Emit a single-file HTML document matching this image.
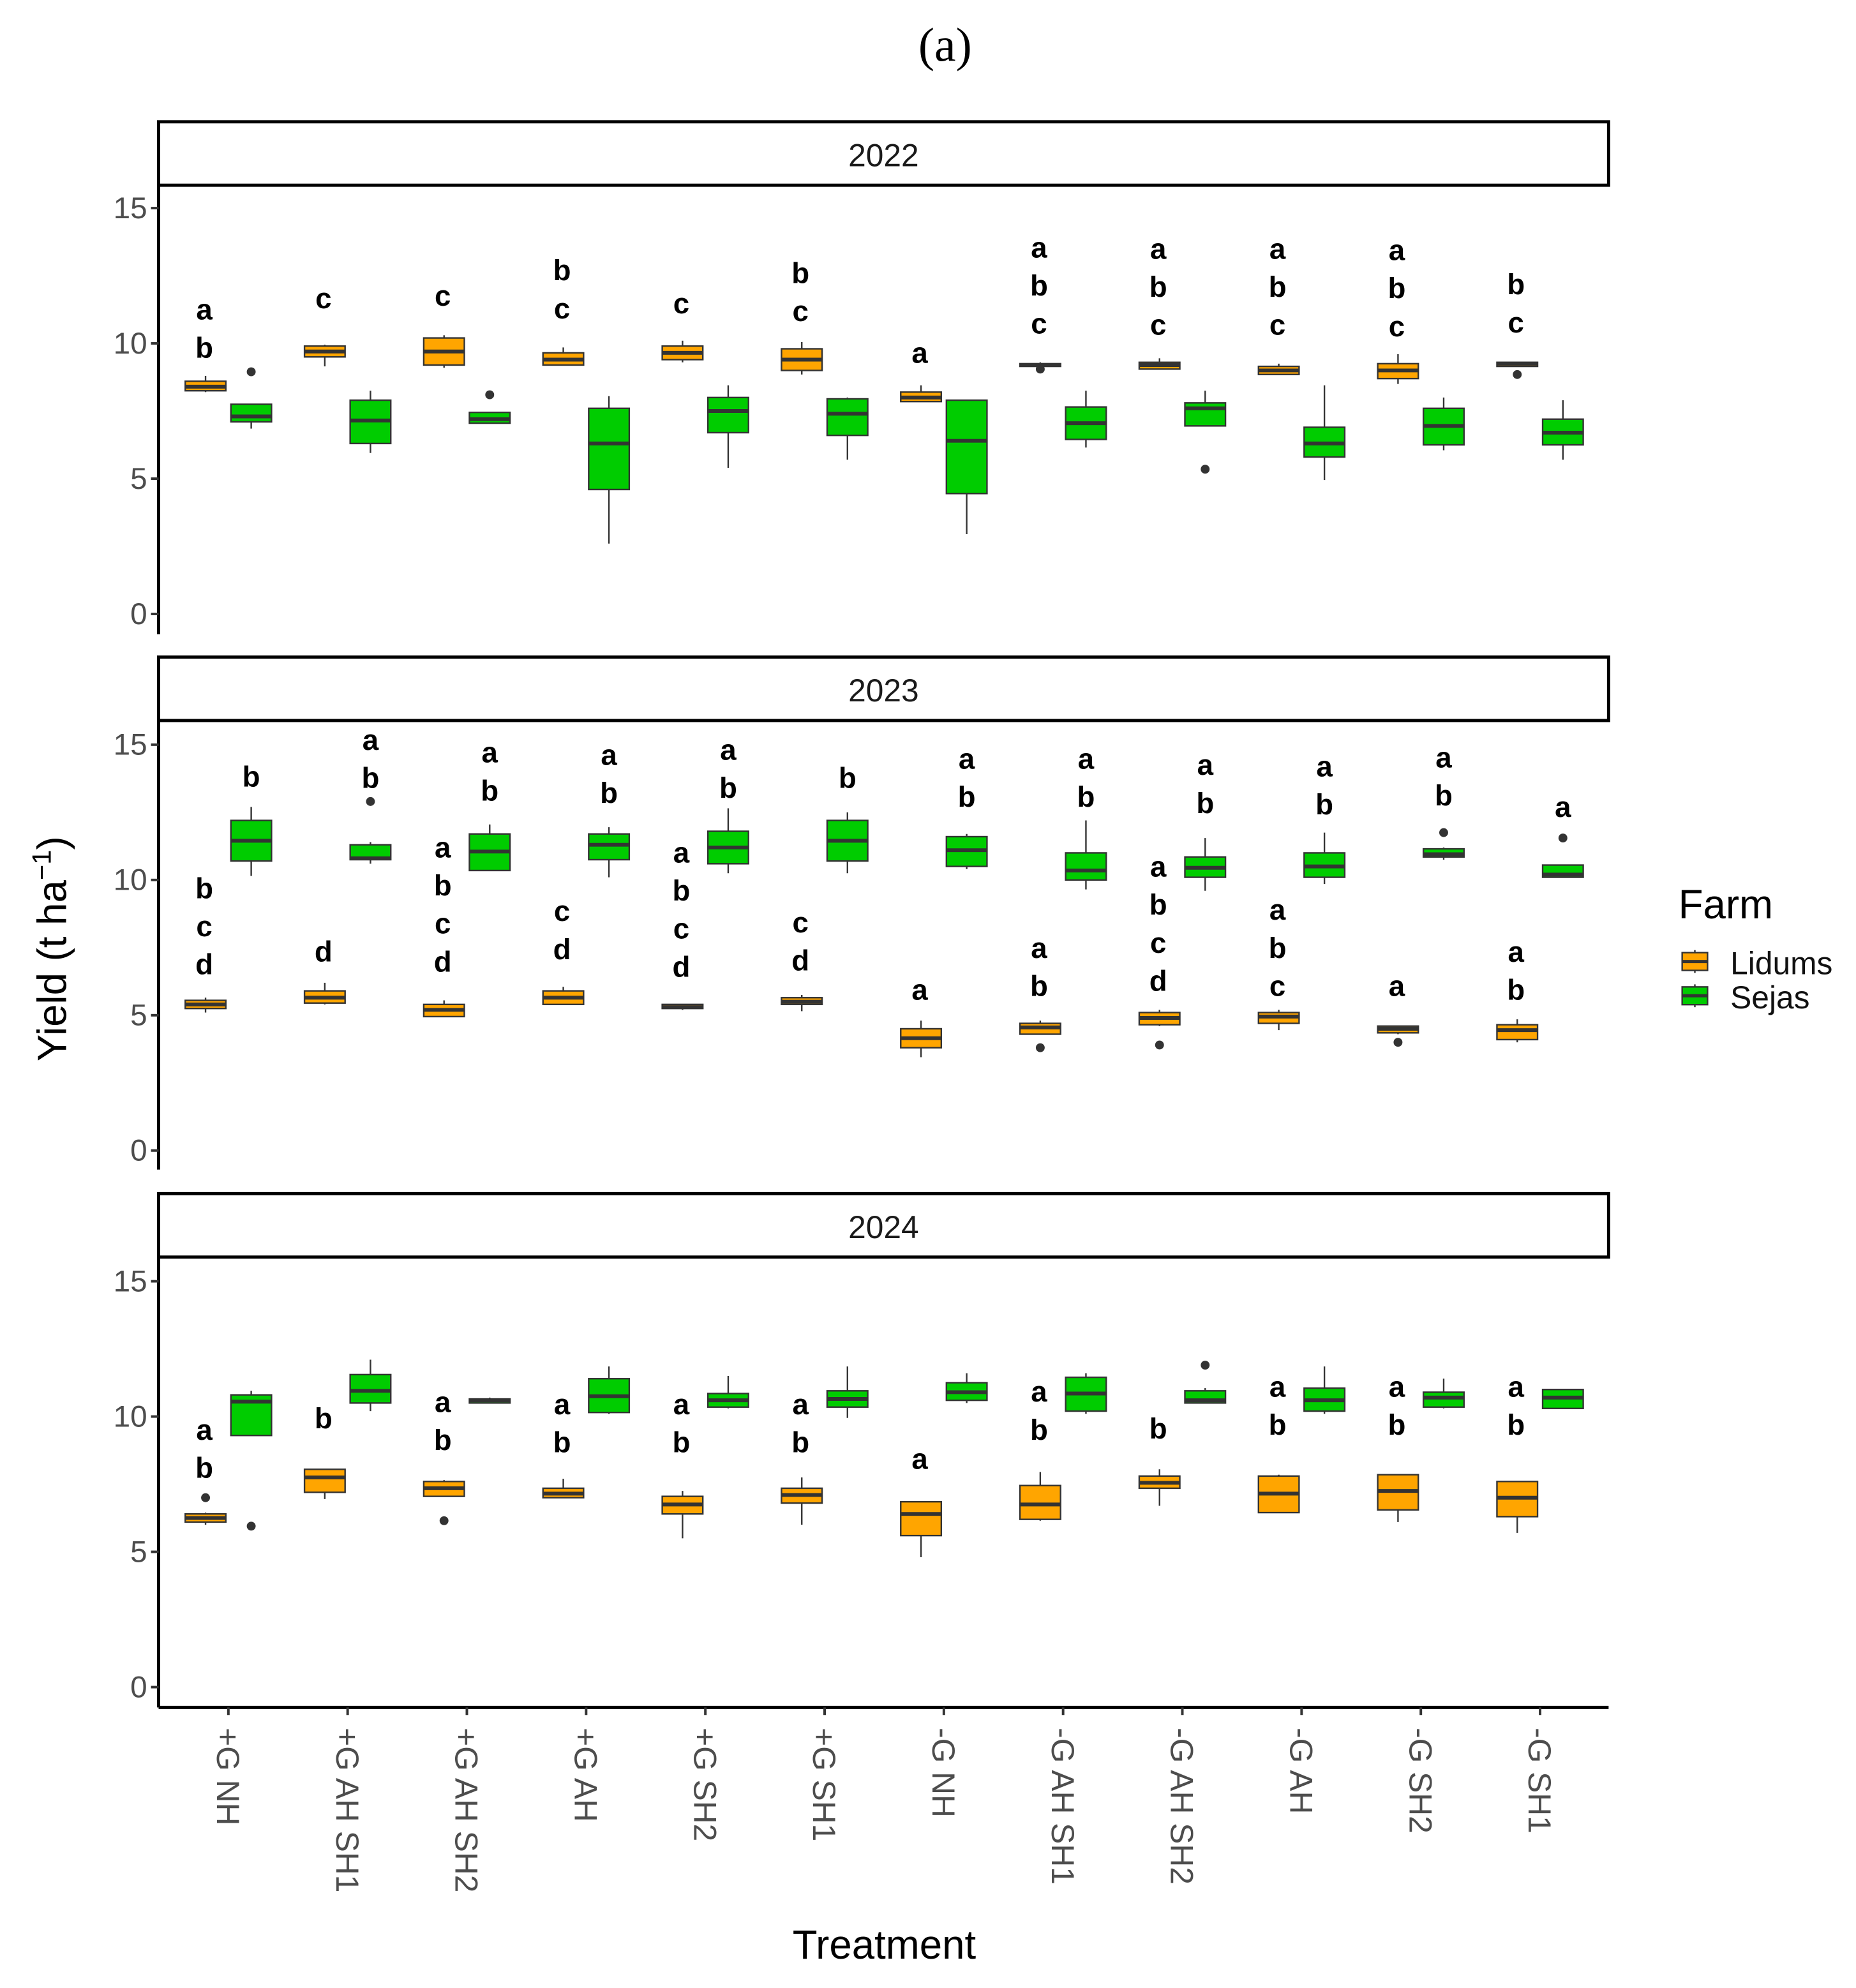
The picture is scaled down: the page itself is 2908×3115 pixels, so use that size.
<!DOCTYPE html>
<html><head><meta charset="utf-8"><style>
html,body{margin:0;padding:0;background:#fff}
svg{display:block}
text{font-family:"Liberation Sans",Arial,sans-serif}
</style></head><body>
<svg id="chart" width="2908" height="3115" viewBox="0 0 1463 1567.2" xmlns="http://www.w3.org/2000/svg">
<text x="745" y="48" text-anchor="middle" font-size="38" style="font-family:'Liberation Serif',serif">(a)</text>
<text x="697" y="1544" text-anchor="middle" font-size="32">Treatment</text>
<text transform="translate(52,748) rotate(-90)" text-anchor="middle" font-size="32">Yield (t ha<tspan dy="-12" font-size="21">−1</tspan><tspan dy="12">)</tspan></text>
<g>
<text x="1323" y="724" font-size="32">Farm</text>
<g><line x1="1336" y1="749" x2="1336" y2="767" stroke="#333" stroke-width="1.2"/><rect x="1326" y="751" width="20" height="14" fill="#FFA500" stroke="#333" stroke-width="1.2"/><line x1="1326" y1="758" x2="1346" y2="758" stroke="#333" stroke-width="2.5"/><text x="1364" y="768" font-size="25" fill="#111">Lidums</text></g>
<g><line x1="1336" y1="776" x2="1336" y2="794" stroke="#333" stroke-width="1.2"/><rect x="1326" y="778" width="20" height="14" fill="#00CC00" stroke="#333" stroke-width="1.2"/><line x1="1326" y1="785" x2="1346" y2="785" stroke="#333" stroke-width="2.5"/><text x="1364" y="795" font-size="25" fill="#111">Sejas</text></g>
</g>
</svg>
<script>
const categories=["+G NH","+G AH SH1","+G AH SH2","+G AH","+G SH2","+G SH1","-G NH","-G AH SH1","-G AH SH2","-G AH","-G SH2","-G SH1"];
const years=["2022","2023","2024"];
const yTicks=[0,5,10,15];
// each box: [lo, q1, median, q3, hi]
const lidums2022=[[8.2,8.25,8.4,8.6,8.8],[9.15,9.5,9.7,9.9,9.95],[9.1,9.2,9.7,10.2,10.3],[9.2,9.2,9.4,9.65,9.85],[9.3,9.4,9.65,9.9,10.1],[8.85,9.0,9.4,9.8,10.05],[7.85,7.85,8.0,8.2,8.45],[9.15,9.15,9.2,9.25,9.3],[9.05,9.05,9.2,9.3,9.45],[8.85,8.85,9.0,9.15,9.25],[8.5,8.7,9.0,9.25,9.6],[9.15,9.15,9.25,9.3,9.3]];
const sejas2022=[[6.85,7.1,7.3,7.75,7.75],[5.95,6.3,7.15,7.9,8.25],[7.05,7.05,7.2,7.45,7.45],[2.6,4.6,6.3,7.6,8.05],[5.4,6.7,7.5,8.0,8.45],[5.7,6.6,7.4,7.95,8.0],[2.95,4.45,6.4,7.9,7.9],[6.15,6.45,7.05,7.65,8.25],[6.95,6.95,7.6,7.8,8.25],[4.95,5.8,6.3,6.9,8.45],[6.05,6.25,6.95,7.6,8.0],[5.7,6.25,6.7,7.2,7.9]];
const lidums2023=[[5.1,5.25,5.4,5.55,5.65],[5.4,5.45,5.65,5.9,6.2],[4.95,4.95,5.2,5.4,5.55],[5.4,5.4,5.65,5.9,6.05],[5.2,5.25,5.3,5.4,5.4],[5.15,5.4,5.5,5.65,5.75],[3.45,3.8,4.15,4.5,4.8],[4.3,4.3,4.55,4.7,4.8],[4.6,4.65,4.9,5.1,5.2],[4.45,4.7,4.95,5.1,5.2],[4.3,4.35,4.5,4.6,4.6],[4.0,4.1,4.45,4.65,4.85]];
const sejas2023=[[10.15,10.7,11.45,12.2,12.7],[10.6,10.75,10.8,11.3,11.4],[10.35,10.35,11.05,11.7,12.05],[10.1,10.75,11.3,11.7,11.95],[10.25,10.6,11.2,11.8,12.65],[10.25,10.7,11.45,12.2,12.5],[10.4,10.5,11.1,11.6,11.7],[9.65,10.0,10.35,11.0,12.2],[9.6,10.1,10.45,10.85,11.55],[9.85,10.1,10.5,11.0,11.75],[10.75,10.85,10.95,11.15,11.2],[10.1,10.1,10.2,10.55,10.55]];
const lidums2024=[[6.0,6.1,6.25,6.4,6.45],[6.95,7.2,7.75,8.05,8.05],[7.05,7.05,7.35,7.6,7.65],[7.0,7.0,7.15,7.35,7.7],[5.5,6.4,6.75,7.05,7.25],[6.0,6.8,7.1,7.35,7.75],[4.8,5.6,6.4,6.85,6.85],[6.15,6.2,6.75,7.45,7.95],[6.7,7.35,7.55,7.8,8.05],[6.45,6.45,7.15,7.8,7.85],[6.1,6.55,7.25,7.85,7.85],[5.7,6.3,7.0,7.6,7.6]];
const sejas2024=[[9.3,9.3,10.55,10.8,10.95],[10.2,10.5,10.95,11.55,12.1],[10.5,10.5,10.6,10.65,10.7],[10.1,10.15,10.75,11.4,11.85],[10.3,10.35,10.6,10.85,11.5],[9.95,10.35,10.65,10.95,11.85],[10.5,10.6,10.9,11.25,11.6],[10.1,10.2,10.85,11.45,11.6],[10.5,10.5,10.6,10.95,11.05],[10.1,10.2,10.6,11.05,11.85],[10.3,10.35,10.7,10.9,11.4],[10.3,10.3,10.7,11.0,11.0]];
// outliers: [categoryIndex, value]
const outL2022=[[7,9.05],[11,8.85]];
const outS2022=[[0,8.95],[2,8.1],[8,5.35]];
const outL2023=[[7,3.8],[8,3.9],[10,4.0]];
const outS2023=[[1,12.9],[10,11.75],[11,11.55]];
const outL2024=[[0,7.0],[2,6.15]];
const outS2024=[[0,5.95],[8,11.9]];
// significance letters and their y (data units, lowest letter)
const lettersL2022=["ab","c","c","bc","c","bc","a","abc","abc","abc","abc","bc"];
const letterYL2022=[9.85,11.67,11.77,11.3,11.49,11.2,9.66,10.74,10.69,10.69,10.64,10.78];
const lettersL2023=["bcd","d","abcd","cd","abcd","cd","a","ab","abcd","abc","a","ab"];
const letterYL2023=[6.89,7.36,6.99,7.45,6.8,7.03,5.95,6.09,6.28,6.09,6.09,5.95];
const lettersS2023=["b","ab","ab","ab","ab","b","ab","ab","ab","ab","ab","a"];
const letterYS2023=[13.83,13.78,13.31,13.22,13.41,13.78,13.08,13.08,12.85,12.8,13.13,12.7];
const lettersL2024=["ab","b","ab","ab","ab","ab","a","ab","b","ab","ab","ab"];
const letterYL2024=[8.11,9.94,9.14,9.05,9.05,9.05,8.44,9.52,9.56,9.7,9.7,9.7];

const NS="http://www.w3.org/2000/svg";
const svg=document.getElementById('chart');
function mk(tag,attrs,parent){const e=document.createElementNS(NS,tag);for(const k in attrs)e.setAttribute(k,attrs[k]);(parent||svg).appendChild(e);return e;}
const X0=125,X1=1268;
const panels=[{strip:96,zero:484,bottom:500},{strip:518,zero:907,bottom:922},{strip:941,zero:1330,bottom:1346}];
const PXU=21.33;
function xc(i){return 180+i*94;}
const boxes=[[lidums2022,sejas2022],[lidums2023,sejas2023],[lidums2024,sejas2024]];
const outs=[[outL2022,outS2022],[outL2023,outS2023],[outL2024,outS2024]];
const letters=[[[lettersL2022,letterYL2022]],[[lettersL2023,letterYL2023],[lettersS2023,letterYS2023]],[[lettersL2024,letterYL2024]]];
const fills=["#FFA500","#00CC00"];
const farmNames=["lidums","sejas"];
panels.forEach((p,pi)=>{
  const Y=v=>p.zero-v*PXU;
  const g=mk('g',{});
  
  
  const strip=mk('rect',{x:X0,y:p.strip,width:X1-X0,height:50,fill:'#fff',stroke:'#000','stroke-width':2.5},g);
  
  
  const st=mk('text',{x:(X0+X1)/2,y:p.strip+35,'text-anchor':'middle','font-size':25,fill:'#1a1a1a'},g);
  st.textContent=years[pi];
  
  
  const ax=mk('line',{x1:X0,y1:p.strip+50,x2:X0,y2:p.bottom,stroke:'#000','stroke-width':2.5},g);
  
  
  yTicks.forEach(t=>{
    mk('line',{x1:X0-6,y1:Y(t),x2:X0,y2:Y(t),stroke:'#333','stroke-width':2},g);
    const tl=mk('text',{x:X0-9,y:Y(t)+8,'text-anchor':'end','font-size':24,fill:'#4d4d4d'},g);
    tl.textContent=t;
    
    
  });
  boxes[pi].forEach((series,si)=>{
    series.forEach((b,i)=>{
      const cx=xc(i)+(si===0?-18:18),w=32;
      const bg=mk('g',{},g);
      
      
      mk('line',{x1:cx,y1:Y(b[4]),x2:cx,y2:Y(b[0]),stroke:'#333','stroke-width':1.2},bg);
      mk('rect',{x:cx-w/2,y:Y(b[3]),width:w,height:Math.max(1,Y(b[1])-Y(b[3])),fill:fills[si],stroke:'#333','stroke-width':1.2},bg);
      mk('line',{x1:cx-w/2,y1:Y(b[2]),x2:cx+w/2,y2:Y(b[2]),stroke:'#333','stroke-width':3},bg);
    });
    outs[pi][si].forEach(o=>{
      const cx=xc(o[0])+(si===0?-18:18);
      const c=mk('circle',{cx:cx,cy:Y(o[1]),r:3.5,fill:'#333'},g);
      
      
    });
  });
  letters[pi].forEach((pair,li)=>{
    const si=(pi===1&&li===1)?1:0;
    pair[0].forEach((s,i)=>{
      const cx=xc(i)+(si===0?-19:18);
      const base=Y(pair[1][i]);
      const chars=s.split('');
      chars.forEach((ch,k)=>{
        const t=mk('text',{x:cx,y:base+8-(chars.length-1-k)*30,'text-anchor':'middle','font-size':23,'font-weight':'bold',fill:'#000'},g);
        t.textContent=ch;
        
        
      });
    });
  });
});
const xa=mk('line',{x1:X0,y1:1346,x2:X1,y2:1346,stroke:'#000','stroke-width':2.5});


categories.forEach((c,i)=>{
  mk('line',{x1:xc(i),y1:1346,x2:xc(i),y2:1352,stroke:'#333','stroke-width':2});
  const t=mk('text',{transform:'translate('+(xc(i)-9)+',1362) rotate(90)','font-size':25,fill:'#4d4d4d'});
  t.textContent=c;
  
  
});
</script>
</body></html>
